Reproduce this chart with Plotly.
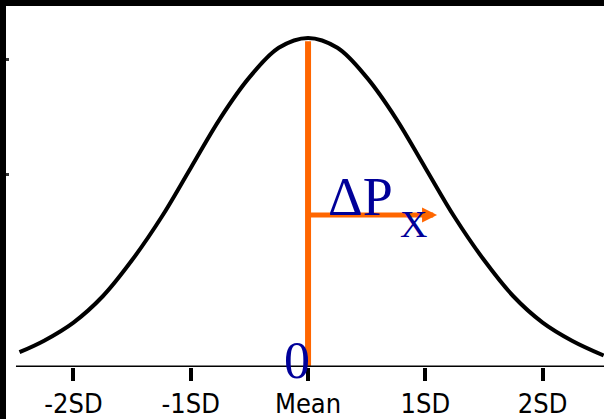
import plotly.graph_objects as go

# Standardised position (in SD units) and relative height of the bell curve
z_points = [-2.46, -2.25, -2.0, -1.75, -1.5, -1.25, -1.0, -0.75, -0.5, -0.25,
            0.0, 0.25, 0.5, 0.75, 1.0, 1.25, 1.5, 1.75, 2.0, 2.25, 2.52]
density = [0.045, 0.08, 0.135, 0.215, 0.325, 0.455, 0.605, 0.755, 0.88, 0.97,
           1.0, 0.97, 0.88, 0.755, 0.605, 0.455, 0.325, 0.215, 0.135, 0.08, 0.035]

# Axis ticks
tick_vals = [-2, -1, 0, 1, 2]
tick_text = ["-2SD", "-1SD", "Mean", "1SD", "2SD"]

# Marker lines: mean line height, ΔP arrow level and its end position
mean_line_top = 0.99
delta_level = 0.462
delta_end = 1.10

ORANGE = "#FF6600"
NAVY = "#000099"
SERIF = "Liberation Serif, Times New Roman, serif"

fig = go.Figure()

fig.add_trace(go.Scatter(
    x=z_points, y=density, mode="lines",
    line=dict(color="black", width=4, shape="spline"),
    hoverinfo="skip", showlegend=False,
))

shapes = [
    # black frame along top and left
    dict(type="rect", xref="paper", yref="paper", x0=-0.02, x1=1.02,
         y0=1.0, y1=1.05, fillcolor="black", line_width=0, layer="above"),
    dict(type="rect", xref="paper", yref="paper", x0=-0.02, x1=0.0,
         y0=-0.2, y1=1.05, fillcolor="black", line_width=0, layer="above"),
    # horizontal axis line
    dict(type="line", xref="x", yref="y", x0=-2.49, x1=2.6, y0=0, y1=0,
         line=dict(color="black", width=3), layer="above"),
    # vertical line at the mean
    dict(type="line", xref="x", yref="y", x0=0, x1=0, y0=0, y1=mean_line_top,
         line=dict(color=ORANGE, width=6), layer="below"),
]

annotations = [
    # ΔP arrow from the mean line
    dict(x=delta_end, y=delta_level, ax=0, ay=delta_level,
         xref="x", yref="y", axref="x", ayref="y", text="",
         showarrow=True, arrowhead=2, arrowsize=0.6, arrowwidth=5,
         arrowcolor=ORANGE),
    dict(x=0.15, y=delta_level, xref="x", yref="y", text="ΔP",
         showarrow=False, xanchor="left", yanchor="bottom", yshift=-14,
         font=dict(family=SERIF, size=54, color=NAVY)),
    dict(x=0.77, y=delta_level, xref="x", yref="y", text="X",
         showarrow=False, xanchor="left", yanchor="top", yshift=14,
         font=dict(family=SERIF, size=38, color=NAVY)),
    dict(x=-0.09, y=0.02, xref="x", yref="y", text="0",
         showarrow=False, xanchor="center", yanchor="middle",
         font=dict(family=SERIF, size=52, color=NAVY)),
]

fig.update_layout(
    width=604, height=419,
    margin=dict(l=6, r=0, t=6, b=52, autoexpand=False),
    paper_bgcolor="white", plot_bgcolor="white",
    shapes=shapes, annotations=annotations,
    xaxis=dict(
        range=[-2.575, 2.523], showgrid=False, zeroline=False, showline=False,
        automargin=False,
        tickmode="array", tickvals=tick_vals, ticktext=tick_text,
        ticks="outside", ticklen=13, tickwidth=4, tickcolor="black",
        tickfont=dict(family="Liberation Sans Narrow, Arial Narrow, DejaVu Sans Condensed, sans-serif",
                      size=27, color="black"),
        fixedrange=True,
    ),
    yaxis=dict(
        range=[0, 1.097], showgrid=False, zeroline=False, showline=False,
        automargin=False,
        tickmode="array", tickvals=[0.584, 0.933],
        ticks="inside", ticklen=3, tickwidth=3, tickcolor="#333333",
        showticklabels=False, fixedrange=True,
    ),
)

fig.write_html("out.html")
